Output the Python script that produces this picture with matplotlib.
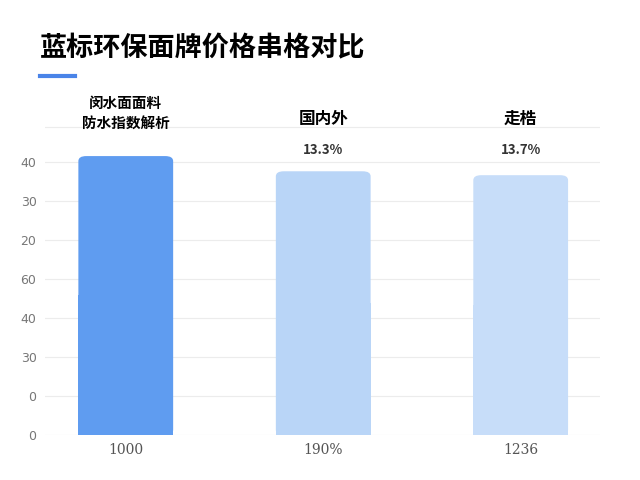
import matplotlib.pyplot as plt
from matplotlib.patches import FancyBboxPatch

plt.rcParams['font.family'] = ['Noto Sans CJK SC', 'DejaVu Sans']

categories = ["闵水面面料\n防水指数解析", "国内外", "走梏"]
values = [7.15, 6.76, 6.66]
pct_labels = ["", "13.3%", "13.7%"]
bottom_labels = ["1000", "190%", "1236"]
ytick_labels = ["0", "0", "30", "40", "60", "20", "30", "40"]
colors = ["#5f9cf0", "#b9d5f7", "#c7ddf9"]

fig = plt.figure(figsize=(6.4, 4.8), dpi=100)
ax = fig.add_axes([0.07, 0.094, 0.867, 0.71])

x = range(len(values))
bars = ax.bar(x, values, width=0.48, color=colors, zorder=2)
# round the top corners a little
for b, c in zip(bars, colors):
    b.set_visible(False)
    bx, w, h = b.get_x(), b.get_width(), b.get_height()
    ax.add_patch(FancyBboxPatch((bx, 0), w, h - 0.0, boxstyle="round,pad=0,rounding_size=0.04",
                                mutation_aspect=3.2, fc=c, ec="none", zorder=2))
    ax.add_patch(plt.Rectangle((bx, 0), w, h * 0.5, fc=c, ec="none", zorder=2))
for yv in range(0, 9):
    ax.axhline(yv if yv < 8 else 7.9, color="#ececec", lw=0.8, zorder=1)

ax.set_xlim(-0.41, 2.4)
ax.set_ylim(0, 8.74)
ax.set_yticks(range(8))
ax.set_yticklabels(ytick_labels, color="#777777", fontsize=9, family="DejaVu Sans")
ax.set_xticks(list(x))
ax.set_xticklabels(bottom_labels, color="#555555", fontsize=10, family="DejaVu Serif")
ax.tick_params(length=0, pad=6)
for s in ax.spines.values():
    s.set_visible(False)

# labels above bars
ax.text(0, 8.25, categories[0], ha="center", va="center", fontsize=10.5,
        fontweight="bold", linespacing=1.4)
for i in (1, 2):
    ax.text(i, 8.1, categories[i], ha="center", va="center", fontsize=12, fontweight="bold")
    ax.text(i, 7.3, pct_labels[i], ha="center", va="center", fontsize=9.5, fontweight="bold",
            color="#333333")

fig.text(0.062, 0.9, "蓝标环保面牌价格串格对比", fontsize=19.5, fontweight="bold", va="center")
fig.add_artist(plt.Line2D([0.062, 0.117], [0.842, 0.842], color="#4a84e8", lw=3))

plt.savefig("out.png", dpi=100)
